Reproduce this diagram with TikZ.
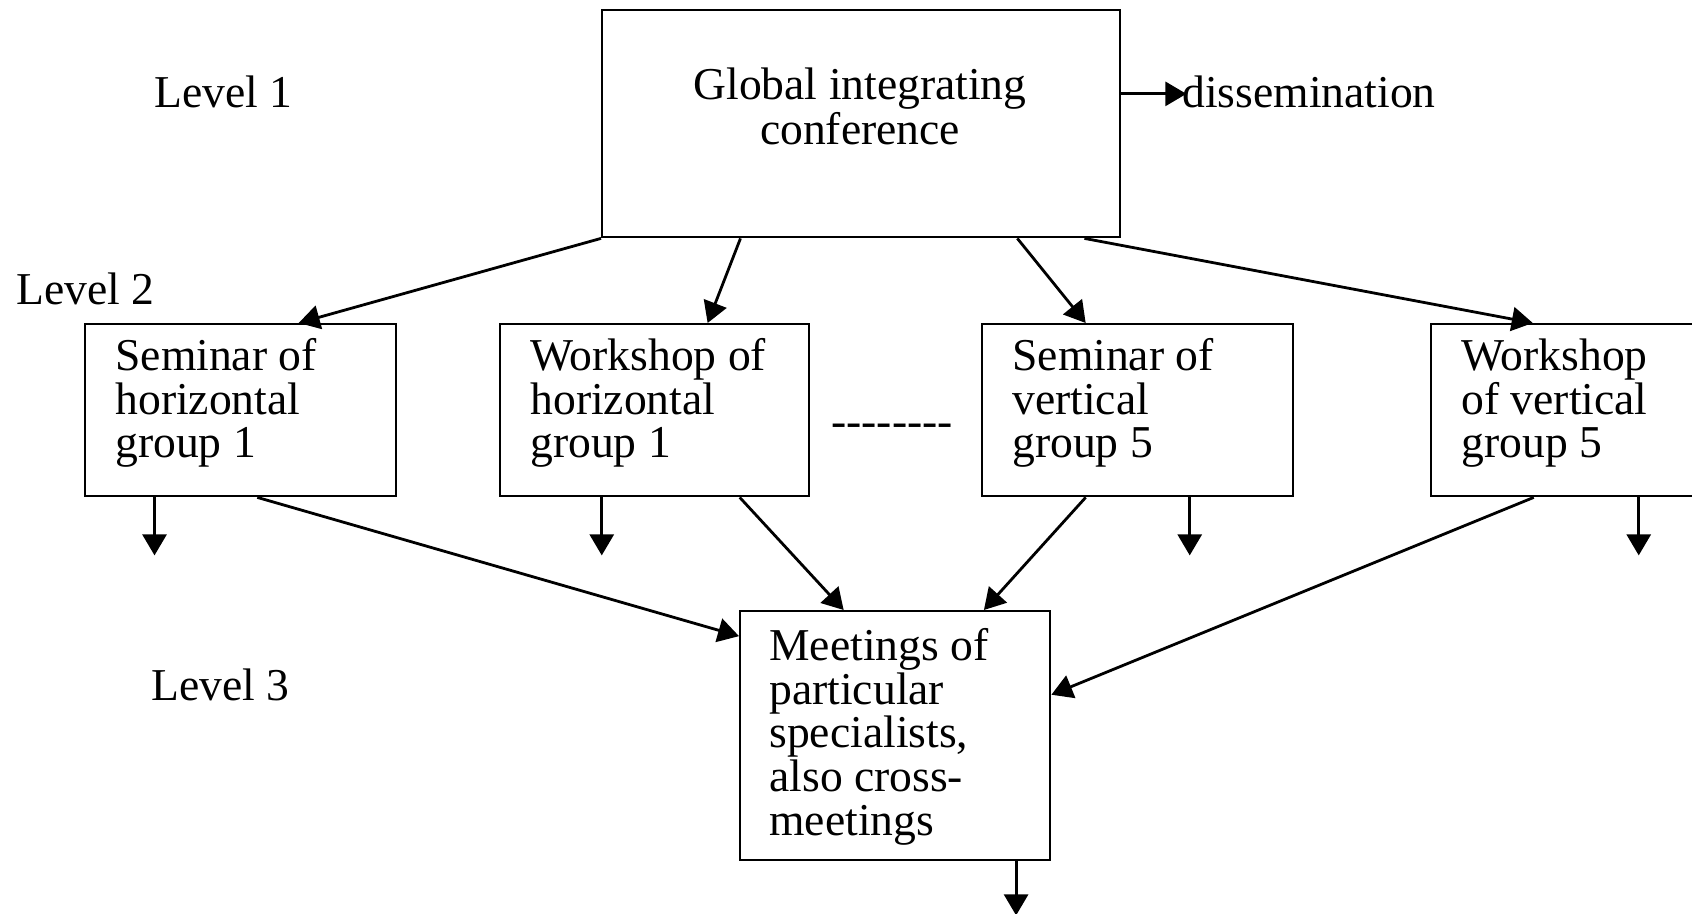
\documentclass[tikz,border=0pt]{standalone}
\usepackage{fontspec}
\setmainfont{Liberation Serif}
\usetikzlibrary{arrows.meta,calc}
\begin{document}
\begin{tikzpicture}[x=0.5pt,y=-0.5pt]
\tikzset{
  box/.style={draw, line width=1.2pt, inner sep=0pt, anchor=north west},
  txt/.style={inner sep=0pt, font=\fontsize{22.8}{21.8}\selectfont, align=left, anchor=base west},
  arr/.style={line width=1.4pt, -{Triangle[length=10.5pt,width=12pt]}},
}
\useasboundingbox (0,0) rectangle (1692,914);
% boxes
\node[box, minimum width=259pt, minimum height=113.5pt] (top) at (601,9) {};
\node[box, minimum width=155.5pt, minimum height=86pt] (A) at (84,323) {};
\node[box, minimum width=154.5pt, minimum height=86pt] (B) at (499,323) {};
\node[box, minimum width=155.5pt, minimum height=86pt] (C) at (981,323) {};
\node[box, minimum width=155.5pt, minimum height=86pt] (D) at (1430,323) {};
\node[box, minimum width=155pt, minimum height=124.5pt] (E) at (739,610) {};
% texts (multi-line: anchor at last baseline)
\node[txt, align=center, anchor=base, font=\fontsize{22.8}{22.6}\selectfont] (gt) at (860,145) {Global integrating\\conference};
\node[txt] (at) at (115,458) {Seminar of\\horizontal\\group 1};
\node[txt] (bt) at (530,458) {Workshop of\\horizontal\\group 1};
\node[txt] (ct) at (1012,458) {Seminar of\\vertical\\group 5};
\node[txt] (dt) at (1461,458) {Workshop\\of vertical\\group 5};
\node[txt] (et) at (769,835) {Meetings of\\particular\\specialists,\\also cross-\\meetings};
\node[txt] (l1) at (154,108) {Level 1};
\node[txt] (l2) at (16,305) {Level 2};
\node[txt] (l3) at (151,700) {Level 3};
\node[txt] (dis) at (1182,108) {dissemination};
\node[txt] (dots) at (831,437) {\mbox{-}\mbox{-}\mbox{-}\mbox{-}\mbox{-}\mbox{-}\mbox{-}\mbox{-}};
% free ends
\coordinate (disend) at ($(top.north east)!0.37!(top.south east)+(65,0)$);
\coordinate (adown) at ($(A.south west)!0.225!(A.south east)+(0,58)$);
\coordinate (bdown) at ($(B.south west)!0.33!(B.south east)+(0,58)$);
\coordinate (cdown) at ($(C.south west)!0.666!(C.south east)+(0,58)$);
\coordinate (ddown) at ($(D.south west)!0.666!(D.south east)+(0,58)$);
\coordinate (edown) at ($(E.south west)!0.887!(E.south east)+(0,54)$);
% connectors
\draw[arr] ($(top.north east)!0.37!(top.south east)$) -- (disend);
\draw[arr] (top.south west) -- ($(A.north west)!0.685!(A.north east)$);
\draw[arr] ($(top.south west)!0.268!(top.south east)$) -- ($(B.north west)!0.67!(B.north east)$);
\draw[arr] ($(top.south west)!0.80!(top.south east)$) -- ($(C.north west)!0.334!(C.north east)$);
\draw[arr] ($(top.south west)!0.929!(top.south east)$) -- ($(D.north west)!0.328!(D.north east)$);
\draw[arr] ($(A.south west)!0.225!(A.south east)$) -- (adown);
\draw[arr] ($(B.south west)!0.33!(B.south east)$) -- (bdown);
\draw[arr] ($(C.south west)!0.666!(C.south east)$) -- (cdown);
\draw[arr] ($(D.south west)!0.666!(D.south east)$) -- (ddown);
\draw[arr] ($(A.south west)!0.553!(A.south east)$) -- ($(E.north west)!0.104!(E.south west)$);
\draw[arr] ($(B.south west)!0.773!(B.south east)$) -- ($(E.north west)!0.335!(E.north east)$);
\draw[arr] ($(C.south west)!0.334!(C.south east)$) -- ($(E.north west)!0.784!(E.north east)$);
\draw[arr] ($(D.south west)!0.331!(D.south east)$) -- ($(E.north east)!0.337!(E.south east)$);
\draw[arr] ($(E.south west)!0.887!(E.south east)$) -- (edown);
\end{tikzpicture}
\end{document}
